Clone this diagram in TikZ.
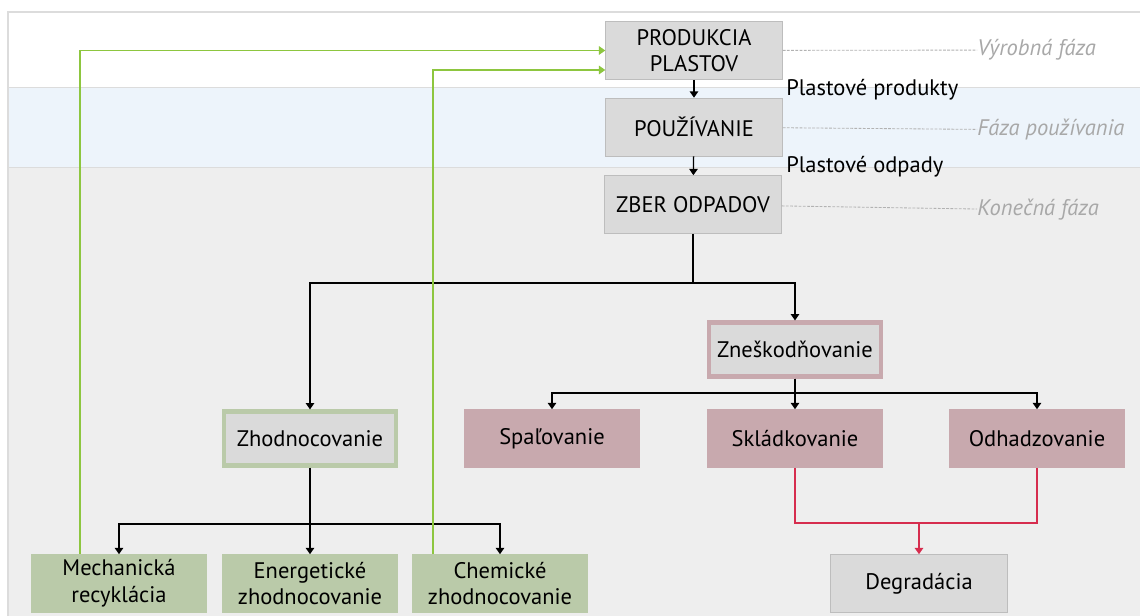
\documentclass[tikz,border=0pt]{standalone}
\usepackage{fontspec}
\setmainfont{PT Sans}
\usetikzlibrary{calc,arrows.meta}
\definecolor{boxgray}{HTML}{DADADA}
\definecolor{edgegray}{HTML}{BDBDBD}
\definecolor{boxgreen}{HTML}{BACAA9}
\definecolor{boxpink}{HTML}{C8A9AE}
\definecolor{bandblue}{HTML}{EDF4FB}
\definecolor{bandgray}{HTML}{EEEEEE}
\definecolor{framegray}{HTML}{DCDCDC}
\definecolor{phasegray}{HTML}{A8A8A8}
\definecolor{backgreen}{HTML}{8DC63F}
\definecolor{degred}{HTML}{D62D4E}

\begin{document}
\begin{tikzpicture}[x=0.025cm,y=-0.025cm,
  box/.style={fill=boxgray,draw=edgegray,minimum width=4.42cm,minimum height=1.45cm,
    align=center,inner sep=1pt,font=\fontsize{16}{19}\selectfont},
  greenbox/.style={box,fill=boxgreen,draw=none},
  pinkbox/.style={box,fill=boxpink,draw=none},
  ringgreen/.style={box,draw=boxgreen,line width=3.5pt,minimum width=4.3cm,minimum height=1.33cm},
  ringpink/.style={box,draw=boxpink,line width=3.5pt,minimum width=4.3cm,minimum height=1.33cm},
  phase/.style={anchor=west,inner sep=0pt,text=phasegray,font=\fontsize{16}{19}\selectfont\itshape},
  flow/.style={anchor=west,inner sep=0pt,font=\fontsize{16}{19}\selectfont},
  phaseline/.style={gray!60,dash pattern=on 2pt off 1pt,line width=0.6pt},
  link/.style={black,line width=0.9pt},
  tip/.style={-{Triangle[length=4.5pt,width=6pt]}},
  greenlink/.style={backgreen,line width=1pt},
  redlink/.style={degred,line width=1.2pt}]
\useasboundingbox (0,0) rectangle (1140,616);
  \fill[white] (8,12) rectangle (1140,87);
  \fill[bandblue] (8,87) rectangle (1140,167);
  \fill[bandgray] (8,167) rectangle (1140,616);
  \draw[framegray] (8,87) -- (1140,87);
  \draw[framegray] (8,167) -- (1140,167);
  \draw[framegray,line width=1pt] (1140,12) -- (8,12) -- (8,616);

  \node[box] (prod) at (694,50.5) {PRODUKCIA\\PLASTOV};
  \node[box] (pouz) at (694,127) {POUŽÍVANIE};
  \node[box] (zber) at (693,204.5) {ZBER ODPADOV};
  \node[flow] (prodtxt) at (786,90) {Plastové produkty};
  \node[flow] (odptxt) at (786,167) {Plastové odpady};
  \node[phase] (vyr) at (977,50) {Výrobná fáza};
  \node[phase] (pouzf) at (977,130) {Fáza používania};
  \node[phase] (kon) at (977,210) {Konečná fáza};

  \node[ringgreen] (zhod) at (310,438.5) {Zhodnocovanie};
  \node[ringpink] (znes) at (795,349.5) {Zneškodňovanie};
  \node[greenbox] (mech) at (119,583.5) {Mechanická\\recyklácia};
  \node[greenbox] (ener) at (310,583.5) {Energetické\\zhodnocovanie};
  \node[greenbox] (chem) at (500,583.5) {Chemické\\zhodnocovanie};
  \node[pinkbox] (spal) at (552,438.5) {Spaľovanie};
  \node[pinkbox] (skla) at (795,438.5) {Skládkovanie};
  \node[pinkbox] (odha) at (1037,438.5) {Odhadzovanie};
  \node[box] (degr) at (919,583.5) {Degradácia};

  \coordinate (j1) at (693,283);
  \coordinate (j2) at (310,524);
  \coordinate (j3) at (795,393);
  \coordinate (j4) at (919,523);
  \coordinate (g1) at (80,554);
  \coordinate (g2) at (433,554);

  \draw[phaseline] (prod) -- (vyr);
  \draw[phaseline] (pouz) -- (pouzf);
  \draw[phaseline] (zber) -- (kon);

  \draw[link,tip] (prod) -- (pouz);
  \draw[link,tip] (pouz) -- (zber);
  \draw[link] (zber) -- (j1);
  \draw[link,tip] (j1) -| (zhod);
  \draw[link,tip] (j1) -| (znes);
  \draw[link,tip] (zhod) -- (ener);
  \draw[link,tip] (j2) -| (mech);
  \draw[link,tip] (j2) -| (chem);
  \draw[link] (znes) -- (j3);
  \draw[link,tip] (j3) -| (spal);
  \draw[link,tip] (znes) -- (skla);
  \draw[link,tip] (j3) -| (odha);

  \draw[redlink] (skla.south) |- (j4) -| (odha.south);
  \draw[redlink,tip] (j4) -- (degr);

  \draw[greenlink,tip] (g1) |- (prod.west);
  \draw[greenlink,tip] (g2) |- ($(prod.west)+(0,19.5)$);
\end{tikzpicture}
\end{document}
